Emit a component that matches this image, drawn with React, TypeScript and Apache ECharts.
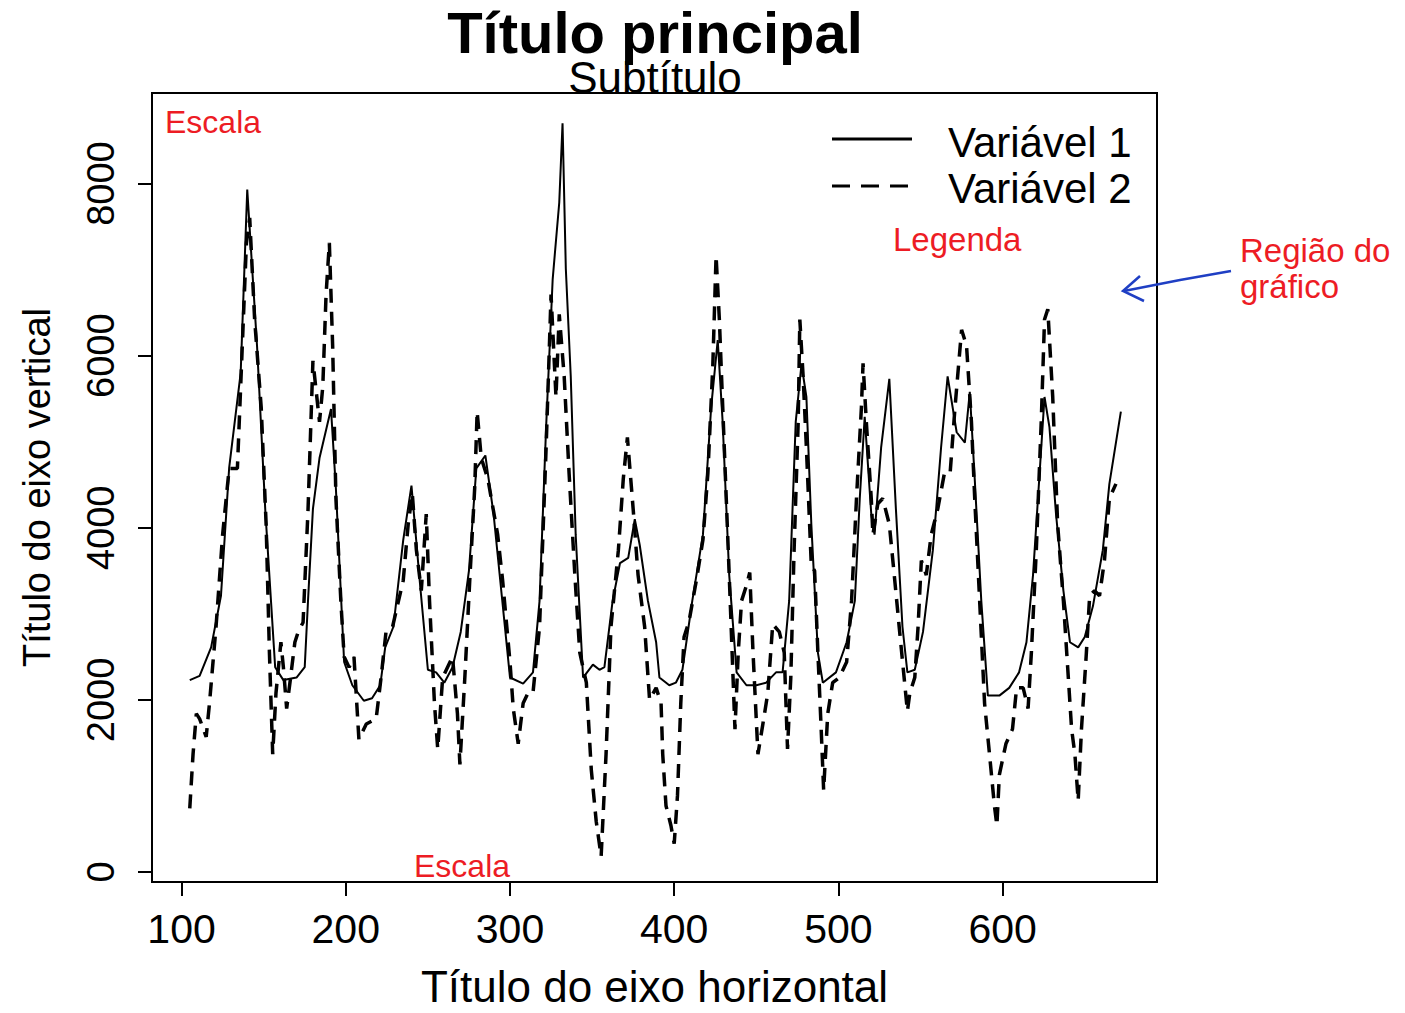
import React, { useEffect, useRef } from "react";
import * as echarts from "echarts";

const seriesNames = ["Variável 1", "Variável 2"];
const xTicks = [100, 200, 300, 400, 500, 600];
const yTicks = [0, 2000, 4000, 6000, 8000];

const var1X = [105, 111, 118, 124, 129, 136, 140, 146, 151, 157, 162, 170, 175, 177, 180, 184, 191, 194, 199, 204, 211, 216, 221, 224, 229, 235, 240, 245, 250, 255, 260, 265, 270, 275, 279.5, 285, 290, 295, 300, 308, 314, 318, 322, 326, 330, 332, 334, 337, 340, 344.5, 350.5, 354.5, 357.5, 362.5, 367, 372, 376, 379, 384, 389, 391, 397, 401, 405, 411, 417.5, 422.5, 426.5, 429.5, 433.5, 438, 444, 450, 456, 462, 466, 470, 474, 477.5, 480.5, 483.5, 487.5, 490.5, 498.5, 505, 510, 513, 516, 520, 522, 526, 531, 535, 539, 542, 546.5, 551.5, 557.5, 562.5, 566.5, 572, 577, 580, 583, 587, 591, 598, 604, 610, 614.5, 618.5, 622.5, 625.5, 628.5, 632.5, 637, 641, 646, 650, 655, 661, 665, 672];
const var1Y = [2230, 2280, 2610, 3210, 4700, 5800, 7930, 6100, 4200, 2380, 2230, 2260, 2380, 3150, 4220, 4810, 5380, 4450, 2440, 2170, 1990, 2020, 2170, 2610, 2850, 3860, 4490, 3390, 2350, 2320, 2200, 2380, 2790, 3500, 4690, 4840, 4160, 3210, 2260, 2190, 2320, 3150, 5170, 6890, 7780, 8700, 7010, 5760, 3920, 2260, 2410, 2350, 2380, 3150, 3590, 3650, 4100, 3800, 3150, 2670, 2260, 2170, 2200, 2350, 3150, 3920, 5400, 6180, 5230, 3450, 2320, 2170, 2170, 2200, 2320, 2320, 3150, 5230, 5900, 5520, 4040, 2550, 2200, 2320, 2670, 3150, 4340, 5290, 4160, 3920, 4930, 5730, 4220, 2850, 2320, 2350, 2790, 3740, 4930, 5760, 5110, 4990, 5580, 4570, 3150, 2050, 2050, 2140, 2320, 2670, 3450, 4630, 5520, 5170, 4160, 3270, 2670, 2610, 2730, 3090, 3740, 4510, 5350];

const var2X = [105, 107, 109, 111, 115, 117, 121, 125, 129, 134, 137, 139.5, 141.5, 144.5, 148.5, 151.5, 153.5, 155.5, 157.5, 160.5, 162, 164, 166, 169, 171, 174, 177, 180, 184, 186, 188, 190, 192, 194, 197, 199, 202, 205, 208, 212.5, 218.5, 221.5, 224.5, 228.5, 235, 238, 240.5, 243, 246, 249, 251, 254, 256, 259, 265, 268, 269.5, 272.5, 275.5, 278.5, 280, 282.5, 286.5, 292.5, 295.5, 300, 302, 305, 308, 311, 314, 318, 322, 325, 328, 330, 333, 336, 339.5, 342.5, 346.5, 349.5, 352.5, 355.5, 358.5, 361.5, 366, 369, 371.5, 375, 378, 382, 385, 389, 392, 393, 395, 398, 400, 402, 404, 406, 409, 413.5, 417.5, 420.5, 423.5, 425.5, 427.5, 430.5, 433.5, 437, 439, 441, 444, 446, 448, 451, 454, 457, 460, 464, 467, 469, 471, 473, 475.5, 476.5, 478.5, 480.5, 483.5, 485.5, 487.5, 489.5, 491, 493.5, 496.5, 500.5, 505, 508, 511, 514, 515, 517, 520, 521, 524, 527, 531, 534, 537, 540, 542, 543.5, 546.5, 548.5, 550.5, 553.5, 556.5, 560.5, 564.5, 568, 571, 575, 578, 581, 583, 586, 589, 592, 595, 596.5, 598, 602, 606, 608.5, 612.5, 615.5, 617.5, 620.5, 623.5, 625.5, 627.5, 630.5, 633.5, 637, 640, 642, 644, 646, 648, 651, 653, 656, 659, 662, 665, 669];
const var2Y = [740, 1370, 1840, 1780, 1570, 1960, 2850, 3920, 4690, 4690, 6120, 7310, 7600, 6420, 5400, 4040, 2550, 1370, 2080, 2670, 2380, 1900, 2200, 2670, 2790, 2900, 4200, 5940, 5230, 5640, 6710, 7310, 6120, 4340, 3150, 2500, 2380, 2500, 1540, 1720, 1780, 2260, 2790, 2850, 3390, 4040, 4400, 3740, 3270, 4160, 3150, 1960, 1430, 2260, 2500, 1840, 1250, 2260, 3390, 4460, 5350, 4810, 4570, 3920, 3390, 2440, 1900, 1490, 1960, 2080, 2080, 2850, 4930, 6710, 5520, 6480, 5760, 4630, 3450, 2550, 2200, 1190, 590, 180, 1370, 2850, 3740, 4570, 5050, 4220, 3450, 2850, 2000, 2140, 1960, 1370, 770, 540, 330, 890, 1960, 2730, 2910, 3390, 3860, 4630, 5880, 7160, 6420, 4930, 3450, 1660, 2550, 3150, 3330, 3480, 2550, 1370, 1720, 2080, 2880, 2790, 2550, 1430, 2260, 3740, 5230, 6420, 5760, 4930, 3560, 3500, 2550, 1660, 950, 1840, 2200, 2260, 2440, 3150, 4340, 5400, 5910, 5230, 4340, 3920, 4280, 4340, 4040, 3450, 2850, 2260, 1870, 2080, 2260, 2850, 3620, 3450, 3920, 4220, 4630, 4630, 5400, 6300, 6120, 5230, 4340, 3150, 1960, 1370, 770, 540, 1130, 1490, 1660, 2140, 2140, 1900, 2550, 3740, 5230, 6420, 6540, 5520, 4040, 3150, 2260, 1660, 1370, 830, 1660, 2550, 3210, 3270, 3210, 3620, 4340, 4510];

const FONT = "'Liberation Sans', Arial, sans-serif";
const RED = "#ed1c24";
const BLUE = "#1f3fc4";

export default function App() {
  const ref = useRef<HTMLDivElement>(null);
  useEffect(() => {
    const chart = echarts.init(ref.current!, null, { renderer: "svg" });
    const d1 = var1X.map((x, i) => [x, var1Y[i]]);
    const d2 = var2X.map((x, i) => [x, var2Y[i]]);
    const plain = (v: number) => String(v);
    chart.setOption({
      animation: false,
      backgroundColor: "#ffffff",
      grid: {
        left: 152,
        top: 93,
        width: 1005,
        height: 793,
        show: true,
        borderColor: "#000",
        borderWidth: 2,
        backgroundColor: "transparent",
        containLabel: false,
      },
      xAxis: {
        type: "value",
        min: 82,
        max: 694,
        name: "Título do eixo horizontal",
        nameLocation: "middle",
        nameGap: 82,
        nameTextStyle: { fontSize: 44, fontFamily: FONT, color: "#000" },
        axisLine: { show: true, onZero: false, lineStyle: { color: "#000", width: 2 } },
        axisTick: { show: true, length: 14, lineStyle: { color: "#000", width: 2 }, customValues: xTicks },
        axisLabel: { fontSize: 41, fontFamily: FONT, color: "#000", margin: 26, customValues: xTicks, formatter: plain },
        splitLine: { show: false },
      },
      yAxis: {
        type: "value",
        min: -116,
        max: 9052,
        name: "Título do eixo vertical",
        nameLocation: "middle",
        nameGap: 96,
        nameTextStyle: { fontSize: 38, fontFamily: FONT, color: "#000" },
        axisLine: { show: true, onZero: false, lineStyle: { color: "#000", width: 2 } },
        axisTick: { show: true, length: 14, lineStyle: { color: "#000", width: 2 }, customValues: yTicks },
        axisLabel: { fontSize: 38, fontFamily: FONT, color: "#000", rotate: 90, margin: 32, customValues: yTicks, formatter: plain },
        splitLine: { show: false },
      },
      series: [
        {
          name: seriesNames[0],
          type: "line",
          data: d1,
          symbol: "none",
          showSymbol: false,
          lineStyle: { color: "#000", width: 2, type: "solid" },
        },
        {
          name: seriesNames[1],
          type: "line",
          data: d2,
          symbol: "none",
          showSymbol: false,
          lineStyle: { color: "#000", width: 3.5, type: [14, 9] },
        },
      ],
      graphic: [
        { type: "text", x: 655, y: 32, style: { text: "Título principal", fill: "#000", font: `bold 58px ${FONT}`, lineHeight: 44, textAlign: "center", verticalAlign: "middle" } },
        { type: "text", x: 655, y: 77, style: { text: "Subtítulo", fill: "#000", font: `44px ${FONT}`, lineHeight: 32, textAlign: "center", verticalAlign: "middle" } },
        { type: "line", shape: { x1: 832, y1: 139, x2: 912, y2: 139 }, style: { stroke: "#000", lineWidth: 3 } },
        { type: "line", shape: { x1: 832, y1: 186, x2: 908, y2: 186 }, style: { stroke: "#000", lineWidth: 3, lineDash: [18, 11] } },
        { type: "text", x: 948, y: 142, style: { text: seriesNames[0], fill: "#000", font: `42px ${FONT}`, verticalAlign: "middle" } },
        { type: "text", x: 948, y: 188, style: { text: seriesNames[1], fill: "#000", font: `42px ${FONT}`, verticalAlign: "middle" } },
        { type: "text", x: 165, y: 122, style: { text: "Escala", fill: RED, font: `32px ${FONT}`, verticalAlign: "middle" } },
        { type: "text", x: 414, y: 866, style: { text: "Escala", fill: RED, font: `32px ${FONT}`, verticalAlign: "middle" } },
        { type: "text", x: 893, y: 239, style: { text: "Legenda", fill: RED, font: `33px ${FONT}`, verticalAlign: "middle" } },
        { type: "text", x: 1240, y: 250, style: { text: "Região do", fill: RED, font: `33px ${FONT}`, verticalAlign: "middle" } },
        { type: "text", x: 1240, y: 286, style: { text: "gráfico", fill: RED, font: `33px ${FONT}`, verticalAlign: "middle" } },
        { type: "polyline", shape: { points: [[1231, 271], [1180, 280], [1124, 291]] }, style: { stroke: BLUE, lineWidth: 2.5, fill: "none" } },
        { type: "polyline", shape: { points: [[1140, 276], [1123, 291], [1144, 301]] }, style: { stroke: BLUE, lineWidth: 2.5, fill: "none" } },
      ],
    });
    return () => chart.dispose();
  }, []);
  return (
    <div
      ref={ref}
      style={{ position: "fixed", left: 0, top: 0, width: 1405, height: 1013, background: "#fff" }}
    />
  );
}
